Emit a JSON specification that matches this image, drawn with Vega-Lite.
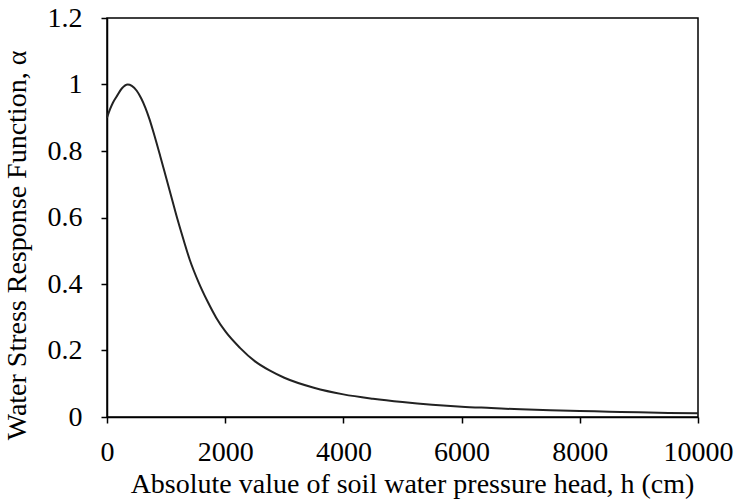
{
  "$schema": "https://vega.github.io/schema/vega-lite/v6.json",
  "autosize": "none",
  "width": 591,
  "height": 399,
  "padding": {"left": 107, "top": 18, "right": 40, "bottom": 87},
  "background": "white",
  "config": {
    "font": "Liberation Serif",
    "view": {"stroke": "#000", "strokeWidth": 1.5},
    "axis": {
      "grid": false,
      "domainColor": "#000",
      "domainWidth": 1.5,
      "tickColor": "#000",
      "tickWidth": 1.5,
      "tickSize": 6,
      "labelFont": "Liberation Serif",
      "labelFontSize": 28,
      "labelColor": "#000",
      "titleFont": "Liberation Serif",
      "titleFontSize": 28,
      "titleFontWeight": "normal",
      "titleColor": "#000"
    }
  },
  "data": {
    "values": [
      {"h": 0, "a": 0.9},
      {"h": 50, "a": 0.925},
      {"h": 100, "a": 0.945},
      {"h": 160, "a": 0.963},
      {"h": 250, "a": 0.988},
      {"h": 350, "a": 1.0},
      {"h": 420, "a": 0.996},
      {"h": 500, "a": 0.982},
      {"h": 580, "a": 0.958},
      {"h": 650, "a": 0.93},
      {"h": 720, "a": 0.895},
      {"h": 800, "a": 0.848},
      {"h": 900, "a": 0.785},
      {"h": 1000, "a": 0.72},
      {"h": 1100, "a": 0.655},
      {"h": 1200, "a": 0.59},
      {"h": 1300, "a": 0.53},
      {"h": 1400, "a": 0.473},
      {"h": 1550, "a": 0.405},
      {"h": 1700, "a": 0.348},
      {"h": 1850, "a": 0.298},
      {"h": 2000, "a": 0.258},
      {"h": 2250, "a": 0.208},
      {"h": 2500, "a": 0.168},
      {"h": 2750, "a": 0.14},
      {"h": 3000, "a": 0.118},
      {"h": 3500, "a": 0.088},
      {"h": 4000, "a": 0.068},
      {"h": 4500, "a": 0.055},
      {"h": 5000, "a": 0.045},
      {"h": 5500, "a": 0.037},
      {"h": 6000, "a": 0.031},
      {"h": 6500, "a": 0.027},
      {"h": 7000, "a": 0.023},
      {"h": 7500, "a": 0.02},
      {"h": 8000, "a": 0.018},
      {"h": 8500, "a": 0.016},
      {"h": 9000, "a": 0.014},
      {"h": 9500, "a": 0.012},
      {"h": 10000, "a": 0.011}
    ]
  },
  "mark": {"type": "line", "color": "#222", "strokeWidth": 2, "interpolate": "monotone"},
  "encoding": {
    "x": {
      "field": "h",
      "type": "quantitative",
      "scale": {"domain": [0, 10000], "nice": false},
      "axis": {
        "title": "Absolute value of soil water pressure head, h (cm)",
        "values": [0, 2000, 4000, 6000, 8000, 10000],
        "format": "d",
        "labelPadding": 15,
        "titlePadding": 4,
        "titleX": 305,
        "labelFlush": false
      }
    },
    "y": {
      "field": "a",
      "type": "quantitative",
      "scale": {"domain": [0, 1.2], "nice": false},
      "axis": {
        "title": "Water Stress Response Function, α",
        "values": [0, 0.2, 0.4, 0.6, 0.8, 1, 1.2],
        "format": "~g",
        "labelPadding": 19,
        "titlePadding": 16,
        "titleY": 227,
        "labelFlush": false
      }
    }
  }
}
